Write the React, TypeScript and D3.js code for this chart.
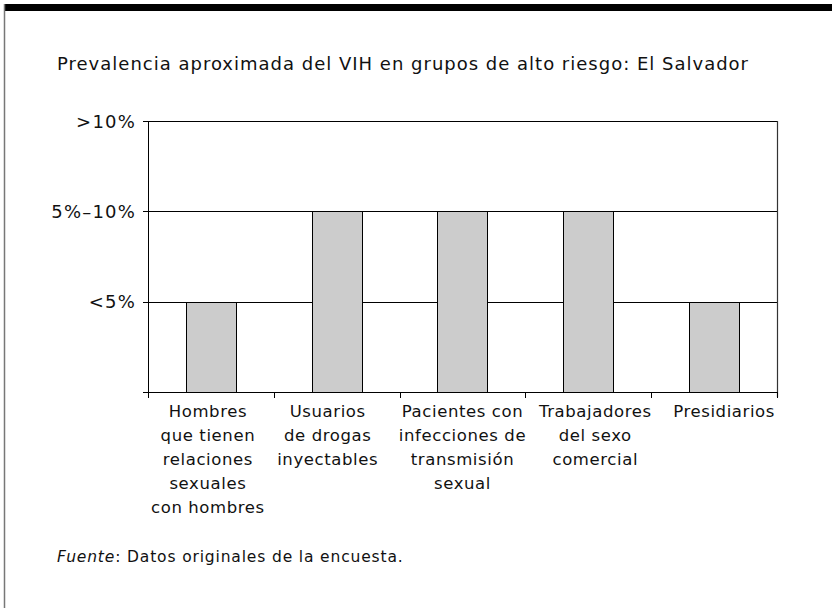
import React from "react";
import * as d3 from "d3";

const categories: string[][] = [
  ["Hombres", "que tienen", "relaciones", "sexuales", "con hombres"],
  ["Usuarios", "de drogas", "inyectables"],
  ["Pacientes con", "infecciones de", "transmisión", "sexual"],
  ["Trabajadores", "del sexo", "comercial"],
  ["Presidiarios"],
];
const levels: number[] = [1, 2, 2, 2, 1];
const tickValues: number[] = [0, 1, 2, 3];
const tickLabels: string[] = ["", "<5%", "5%–10%", ">10%"];
const title = "Prevalencia aproximada del VIH en grupos de alto riesgo: El Salvador";

const W = 832;
const H = 608;
const FONT = "'DejaVu Sans', sans-serif";
const LABEL_NUDGE = [-3, -9, 0, 7, 10];

export default function App() {
  const left = 148, right = 777, top = 121, bottom = 392;
  const x = d3.scaleBand<number>().domain(d3.range(categories.length)).range([left, right]).paddingInner(0.6).paddingOuter(0.3);
  const xb = d3.scaleBand<number>().domain(d3.range(categories.length)).range([left, right]);
  const y = d3.scaleLinear().domain([0, 3]).range([bottom, top]);

  return (
    <svg width={W} height={H} style={{ position: "absolute", left: 0, top: 0, background: "#fff" }} fontFamily={FONT}>
      <rect x={0} y={0} width={W} height={H} fill="#fff" />
      <rect x={4} y={4} width={W - 4} height={7} fill="#000" />
      <line x1={4.5} x2={4.5} y1={4} y2={H} stroke="#777" strokeWidth={1.5} />
      <text x={57} y={70} fontSize={18} letterSpacing={1} fill="#111">{title}</text>

      {tickValues.filter((v) => v > 0).map((v) => (
        <line key={"g" + v} x1={left - 5} x2={right} y1={Math.round(y(v)) + 0.5} y2={Math.round(y(v)) + 0.5} stroke="#000" strokeWidth={1} />
      ))}
      <line x1={right + 0.5} x2={right + 0.5} y1={top} y2={bottom + 5} stroke="#333" strokeWidth={1.2} />

      {levels.map((v, i) => (
        <rect key={"b" + i} x={Math.round(x(i)!) + 0.5} y={Math.round(y(v)) + 0.5} width={Math.round(x.bandwidth())} height={Math.round(y(0)) - Math.round(y(v))} fill="#cccccc" stroke="#000" strokeWidth={1} />
      ))}

      <line x1={left - 5} x2={right} y1={bottom + 0.5} y2={bottom + 0.5} stroke="#000" strokeWidth={1} />
      <line x1={left + 0.5} x2={left + 0.5} y1={top} y2={bottom + 6} stroke="#000" strokeWidth={1} />
      {d3.range(categories.length + 1).map((i) => {
        const xx = Math.round(i < categories.length ? xb(i)! : right) + 0.5;
        return <line key={"t" + i} x1={xx} x2={xx} y1={bottom} y2={bottom + 6} stroke="#000" strokeWidth={1} />;
      })}
      {tickValues.map((v, i) => (
        <text key={"yl" + v} x={136} y={y(v) + 6.5} textAnchor="end" fontSize={18} letterSpacing={1.2} fill="#111">{tickLabels[i]}</text>
      ))}
      {categories.map((lines, i) => (
        <text key={"xl" + i} textAnchor="middle" fontSize={16.5} letterSpacing={0.6} fill="#111">
          {lines.map((ln, j) => (
            <tspan key={j} x={xb(i)! + xb.bandwidth() / 2 + LABEL_NUDGE[i]} y={417 + j * 24}>{ln}</tspan>
          ))}
        </text>
      ))}

      <text x={57} y={562} fontSize={15.5} letterSpacing={0.85} fill="#111">
        <tspan fontStyle="italic">Fuente</tspan>: Datos originales de la encuesta.
      </text>
    </svg>
  );
}
